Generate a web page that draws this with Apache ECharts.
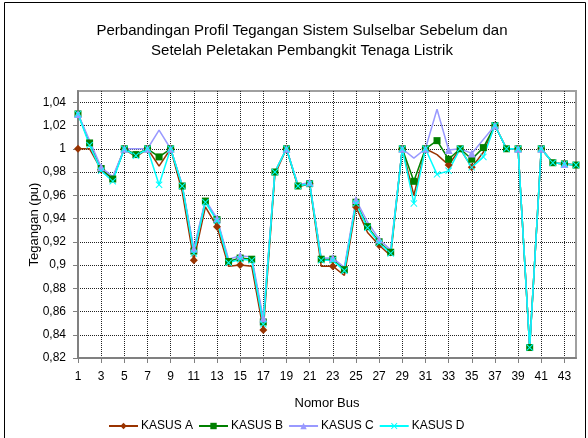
<!DOCTYPE html>
<html>
<head>
<meta charset="utf-8">
<style>
  html, body { margin: 0; padding: 0; background: #fff; }
  #chart { width: 588px; height: 438px; }
</style>
<script src="https://cdn.jsdelivr.net/npm/echarts@6/dist/echarts.min.js"></script>
</head>
<body>
<div id="chart"></div>
<script>
// nomor bus 1..44
const buses = ['1','2','3','4','5','6','7','8','9','10','11','12','13','14','15','16','17','18','19','20','21','22',
  '23','24','25','26','27','28','29','30','31','32','33','34','35','36','37','38','39','40','41','42','43','44'];

// tegangan (pu) per kasus
const kasusA = [1.000, 1.000, 0.982, 0.974, 1.000, 0.993, 1.000, 0.985, 1.000, 0.963, 0.904, 0.950, 0.933, 0.899, 0.900,
  0.899, 0.844, 0.978, 1.000, 0.967, 0.970, 0.899, 0.899, 0.891, 0.950, 0.928, 0.917, 0.908, 1.000, 0.960, 1.000,
  0.995, 0.986, 1.000, 0.984, 0.997, 1.020, 1.000, 1.000, 0.829, 1.000, 0.988, 0.987, 0.986];
const kasusB = [1.030, 1.005, 0.983, 0.974, 1.000, 0.995, 1.000, 0.993, 1.000, 0.968, 0.912, 0.955, 0.939, 0.903, 0.906,
  0.905, 0.851, 0.980, 1.000, 0.968, 0.970, 0.905, 0.905, 0.896, 0.954, 0.933, 0.920, 0.911, 1.000, 0.972, 1.000,
  1.007, 0.991, 1.000, 0.991, 1.001, 1.020, 1.000, 1.000, 0.829, 1.000, 0.988, 0.987, 0.986];
const kasusC = [1.030, 1.007, 0.984, 0.976, 1.000, 1.000, 1.000, 1.016, 1.000, 0.969, 0.914, 0.956, 0.940, 0.905, 0.908,
  0.907, 0.854, 0.980, 1.000, 0.969, 0.971, 0.906, 0.906, 0.898, 0.956, 0.937, 0.922, 0.913, 1.000, 0.992, 1.000,
  1.034, 0.999, 1.000, 0.996, 1.008, 1.020, 1.000, 1.000, 0.829, 1.000, 0.988, 0.987, 0.986];
const kasusD = [1.030, 1.003, 0.981, 0.972, 1.000, 0.994, 1.000, 0.969, 1.000, 0.968, 0.910, 0.954, 0.938, 0.902, 0.905,
  0.904, 0.849, 0.980, 1.000, 0.968, 0.970, 0.904, 0.904, 0.895, 0.953, 0.932, 0.919, 0.910, 1.000, 0.953, 1.000,
  0.978, 0.981, 1.000, 0.984, 0.993, 1.020, 1.000, 1.000, 0.829, 1.000, 0.988, 0.987, 0.986];

const seriesNames = ['KASUS A', 'KASUS B', 'KASUS C', 'KASUS D'];

const font = 'Liberation Sans, Arial, sans-serif';
// simbol silang untuk kasus D
const xMark = 'path://M0,1L1,0L5,4L9,0L10,1L6,5L10,9L9,10L5,6L1,10L0,9L4,5Z';

function makeSeries(name, data, color, symbol, size) {
  return {
    name: name,
    type: 'line',
    data: data,
    symbol: symbol,
    symbolSize: size,
    showSymbol: true,
    lineStyle: { color: color, width: 1.5 },
    itemStyle: { color: color },
    animation: false
  };
}

const chart = echarts.init(document.getElementById('chart'));
chart.setOption({
  backgroundColor: '#fff',
  animation: false,
  textStyle: { fontFamily: font, color: '#000' },
  title: {
    text: 'Perbandingan Profil Tegangan Sistem Sulselbar Sebelum dan\nSetelah Peletakan Pembangkit Tenaga Listrik',
    left: 297,
    textAlign: 'center',
    top: 16,
    textStyle: { fontFamily: font, fontSize: 15, fontWeight: 'normal', color: '#000', lineHeight: 20 }
  },
  legend: {
    data: seriesNames,
    left: 103,
    top: 415,
    itemWidth: 29,
    itemHeight: 8,
    itemGap: 5,
    textStyle: { fontFamily: font, fontSize: 12, color: '#000', padding: [0, 0, 0, -2] }
  },
  grid: {
    left: 78, right: 12, top: 91, bottom: 80,
    show: true,
    borderColor: '#a0a0a0',
    borderWidth: 2,
    containLabel: false
  },
  xAxis: {
    type: 'category',
    data: buses,
    boundaryGap: false,
    name: 'Nomor Bus',
    nameLocation: 'middle',
    nameGap: 39,
    nameTextStyle: { fontFamily: font, fontSize: 13, color: '#000' },
    axisLine: { lineStyle: { color: '#808080', width: 2 } },
    axisTick: { show: true, interval: 1, length: 5, lineStyle: { color: '#808080' } },
    axisLabel: { interval: 1, margin: 13, fontFamily: font, fontSize: 12, color: '#000' },
    splitLine: { show: true, interval: 1, showMinLine: false, lineStyle: { color: '#222', type: 'dotted', width: 1 } }
  },
  yAxis: {
    type: 'value',
    min: 0.82,
    // sedikit ruang di atas 1,04 seperti bidang plot aslinya
    max: 1.0497,
    interval: 0.02,
    name: 'Tegangan (pu)',
    nameLocation: 'middle',
    nameGap: 37,
    nameMoveOverlap: false,
    nameTextStyle: { fontFamily: font, fontSize: 13, color: '#000' },
    axisLine: { show: true, lineStyle: { color: '#808080', width: 2 } },
    axisTick: { show: true, length: 5, lineStyle: { color: '#808080' } },
    axisLabel: {
      margin: 12,
      showMaxLabel: false,
      fontFamily: font, fontSize: 12, color: '#000',
      formatter: function (v) {
        if (v > 1.041) return '';
        return String(parseFloat(v.toFixed(2))).replace('.', ',');
      }
    },
    splitLine: { show: true, showMaxLine: false, lineStyle: { color: '#222', type: 'dotted', width: 1 } }
  },
  graphic: [{
    type: 'rect',
    shape: { x: 4.5, y: 2.5, width: 581, height: 450 },
    style: { fill: 'none', stroke: '#000', lineWidth: 1 },
    silent: true
  }],
  series: [
    makeSeries(seriesNames[0], kasusA, '#993300', 'diamond', 8),
    makeSeries(seriesNames[1], kasusB, '#008000', 'rect', 7),
    makeSeries(seriesNames[2], kasusC, '#9999ff', 'triangle', 8),
    makeSeries(seriesNames[3], kasusD, '#00ffff', xMark, 7)
  ]
});
</script>
</body>
</html>
